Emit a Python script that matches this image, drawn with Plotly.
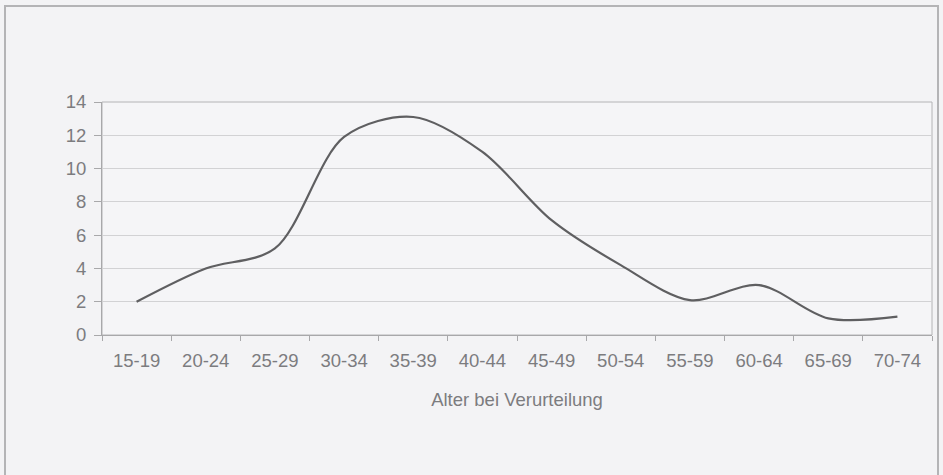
import plotly.graph_objects as go

# Age groups at time of conviction and share per group
age_groups = ["15-19", "20-24", "25-29", "30-34", "35-39", "40-44",
              "45-49", "50-54", "55-59", "60-64", "65-69", "70-74"]
shares = [2.0, 4.0, 5.2, 11.9, 13.1, 11.0, 6.9, 4.2, 2.1, 3.0, 1.0, 1.1]
y_ticks = [0, 2, 4, 6, 8, 10, 12, 14]

W, H = 943, 475
ML, MR, MT, MB = 102, 11, 102, 140
pw, ph = W - ML - MR, H - MT - MB

fig = go.Figure()
fig.add_trace(go.Scatter(
    x=age_groups, y=shares, mode="lines",
    line=dict(color="#5f5f61", width=2.2, shape="spline", smoothing=0.9),
    hoverinfo="x+y", showlegend=False,
))

font = dict(family="Liberation Sans, Arial, sans-serif", size=18.5, color="#7c7c7f")

fig.update_layout(
    width=W, height=H,
    margin=dict(l=ML, r=MR, t=MT, b=MB, autoexpand=False),
    paper_bgcolor="#f3f3f5",
    plot_bgcolor="#f5f5f7",
    font=font,
    xaxis=dict(
        type="category", tickson="boundaries",
        range=[-0.5, len(age_groups) - 0.5], automargin=False,
        ticks="outside", ticklen=5, tickcolor="#a8a8aa",
        showline=True, linecolor="#a8a8aa", linewidth=1,
        showgrid=False, mirror=False, ticklabelstandoff=9,
        title=dict(text="Alter bei Verurteilung", font=font, standoff=22),
        tickfont=font,
    ),
    yaxis=dict(
        range=[0, 14], tickvals=y_ticks, automargin=False,
        ticks="outside", ticklen=7, tickcolor="#a8a8aa",
        showline=True, linecolor="#a8a8aa", linewidth=1,
        showgrid=True, gridcolor="#d2d2d4", gridwidth=1,
        zeroline=False, tickfont=font, ticklabelstandoff=4,
    ),
    shapes=[
        # plot-area frame (top and right edges)
        dict(type="rect", xref="paper", yref="paper", x0=0, x1=1, y0=0, y1=1,
             line=dict(color="#b4b4b6", width=1), fillcolor="rgba(0,0,0,0)",
             layer="below"),
        # outer chart border
        dict(type="rect", xref="paper", yref="paper",
             x0=(5 - ML) / pw, x1=(938 - ML) / pw,
             y0=(MT + ph - 480) / ph, y1=(MT + ph - 6) / ph,
             line=dict(color="#b4b4b6", width=2), fillcolor="rgba(0,0,0,0)"),
    ],
)

fig.write_html("out.html")
